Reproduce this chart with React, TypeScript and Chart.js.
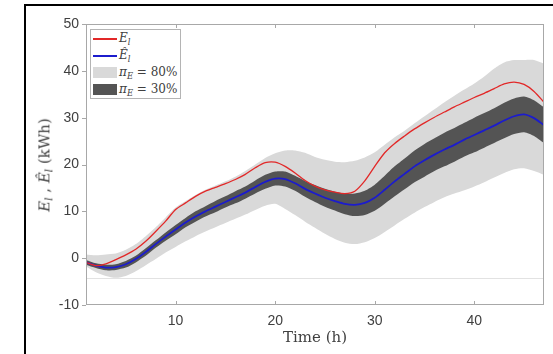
import React, { useEffect, useRef } from "react";
import { Chart, registerables } from "chart.js";

Chart.register(...registerables);

// ---------------- data ----------------
const TIME = [
  1, 2, 3, 4, 5, 6, 7, 8, 9, 10, 11, 12, 13, 14, 15, 16, 17, 18, 19, 20, 21, 22, 23, 24,
  25, 26, 27, 28, 29, 30, 31, 32, 33, 34, 35, 36, 37, 38, 39, 40, 41, 42, 43, 44, 45, 46, 47,
];

// measured energy E_l
const E_ACTUAL = [
  -0.9, -1.6, -1.2, -0.3, 0.7, 1.9, 3.6, 5.7, 7.9, 10.4, 11.8, 13.2, 14.3, 15.1, 15.9, 16.8,
  17.9, 19.3, 20.4, 20.5, 19.6, 18.2, 16.6, 15.4, 14.6, 14.1, 13.8, 14.3, 16.5, 19.6, 22.5,
  24.5, 26.1, 27.6, 28.9, 30.1, 31.2, 32.3, 33.3, 34.3, 35.2, 36.2, 37.2, 37.6, 37.1, 35.6, 33.3,
];

// forecast energy Ê_l
const E_FORECAST = [
  -0.9, -1.6, -2.0, -1.9, -1.3, -0.2, 1.3, 3.0, 4.6, 6.1, 7.6, 8.9, 10.0, 11.0, 12.0, 13.0,
  14.0, 15.2, 16.3, 17.0, 16.9, 16.0, 14.8, 13.8, 12.9, 12.2, 11.6, 11.4, 11.8, 12.9, 14.6,
  16.4, 18.0, 19.6, 20.9, 22.1, 23.2, 24.2, 25.3, 26.3, 27.3, 28.3, 29.4, 30.3, 30.7, 29.9, 28.4,
];

// 80% prediction interval
const PI80_UPPER = [
  0.8, 0.6, 0.8, 1.0, 1.8, 3.0, 4.7, 6.6, 8.7, 10.8, 12.2, 13.5, 14.6, 15.5, 16.4, 17.4,
  18.6, 20.0, 21.4, 22.4, 23.0, 23.0, 22.5, 21.6, 21.0, 20.6, 20.5, 20.8, 21.5, 22.6, 24.2,
  25.8, 27.2, 28.8, 30.3, 31.8, 33.3, 34.7, 36.0, 37.3, 38.8, 40.5, 41.8, 42.3, 42.3, 42.3, 41.5,
];
const PI80_LOWER = [
  -1.8, -3.0, -3.8, -4.2, -3.8, -2.8, -1.5, -0.2, 1.2, 2.4, 3.6, 4.7, 5.7, 6.6, 7.5, 8.4,
  9.3, 10.3, 11.2, 11.6, 10.5, 9.2, 7.8, 6.5, 5.2, 4.1, 3.3, 3.0, 3.4, 4.3, 5.6, 7.0, 8.4,
  9.7, 10.9, 12.0, 13.0, 13.8, 14.5, 15.3, 16.2, 17.2, 18.2, 19.0, 19.2, 18.6, 17.8,
];

// 30% prediction interval
const PI30_UPPER = [
  -0.4, -1.1, -1.4, -1.3, -0.6, 0.5, 2.1, 3.8, 5.5, 7.1, 8.6, 10.0, 11.1, 12.2, 13.2, 14.3,
  15.3, 16.6, 17.8, 18.5, 18.5, 17.6, 16.5, 15.6, 14.8, 14.2, 13.8, 13.8, 14.4, 15.7, 17.6,
  19.6, 21.3, 23.0, 24.4, 25.6, 26.8, 27.8, 28.9, 30.0, 31.0, 32.0, 33.2, 34.1, 34.5, 33.7, 32.2,
];
const PI30_LOWER = [
  -1.4, -2.1, -2.6, -2.5, -2.0, -0.9, 0.5, 2.2, 3.7, 5.1, 6.6, 7.8, 8.9, 9.8, 10.8, 11.7,
  12.7, 13.8, 14.8, 15.5, 15.3, 14.4, 13.1, 12.0, 11.0, 10.2, 9.4, 9.0, 9.2, 10.1, 11.6,
  13.2, 14.7, 16.2, 17.4, 18.6, 19.6, 20.6, 21.7, 22.6, 23.6, 24.6, 25.6, 26.5, 26.9, 26.1, 24.6,
];

const X_TICKS = [10, 20, 30, 40];
const Y_TICKS = [-10, 0, 10, 20, 30, 40, 50];
const X_RANGE = [1, 47];
const Y_RANGE = [-10, 50];
const REF_LINE = -4.2;

const X_TITLE = "Time (h)";
const PI80_LABEL = "80%";
const PI30_LABEL = "30%";

// ---------------- styles ----------------
const RED = "rgb(226,40,40)";
const BLUE = "rgb(28,28,205)";
const LIGHT = "rgb(217,217,217)";
const DARK = "rgb(84,84,84)";
const AXIS = "#a8a8a8";
const TEXT = "#404040";
const SERIF = "'DejaVu Serif', 'Liberation Serif', serif";

const pts = (ys: number[]) => TIME.map((t, i) => ({ x: t, y: ys[i] }));

const boxPlugin = {
  id: "matlabBox",
  beforeDatasetsDraw(chart: any) {
    const { ctx, chartArea: a, scales } = chart;
    const py = Math.round(scales.y.getPixelForValue(REF_LINE)) + 0.5;
    ctx.save();
    ctx.strokeStyle = "#e2e2e2";
    ctx.lineWidth = 1;
    ctx.beginPath();
    ctx.moveTo(a.left, py);
    ctx.lineTo(a.right, py);
    ctx.stroke();
    ctx.restore();
  },
  afterDraw(chart: any) {
    const { ctx, chartArea: a, scales } = chart;
    ctx.save();
    ctx.strokeStyle = AXIS;
    ctx.lineWidth = 1;
    ctx.strokeRect(a.left + 0.5, a.top + 0.5, a.right - a.left - 1, a.bottom - a.top - 1);
    ctx.beginPath();
    X_TICKS.forEach((v) => {
      const px = Math.round(scales.x.getPixelForValue(v)) + 0.5;
      ctx.moveTo(px, a.bottom);
      ctx.lineTo(px, a.bottom - 4);
      ctx.moveTo(px, a.top);
      ctx.lineTo(px, a.top + 4);
    });
    Y_TICKS.forEach((v) => {
      const py = Math.round(scales.y.getPixelForValue(v)) + 0.5;
      ctx.moveTo(a.left, py);
      ctx.lineTo(a.left - 4, py);
    });
    ctx.stroke();
    ctx.restore();
  },
};

const sub: React.CSSProperties = { fontSize: "0.7em", verticalAlign: "-0.3em", fontStyle: "italic" };

export default function App() {
  const ref = useRef<HTMLCanvasElement>(null);

  useEffect(() => {
    if (!ref.current) return;
    const chart = new Chart(ref.current, {
      type: "line",
      data: {
        datasets: [
          { label: "E_l", data: pts(E_ACTUAL), borderColor: RED, borderWidth: 1.3, pointRadius: 0, tension: 0.25, fill: false },
          { label: "Ê_l", data: pts(E_FORECAST), borderColor: BLUE, borderWidth: 1.8, pointRadius: 0, tension: 0.25, fill: false },
          { label: "pi30u", data: pts(PI30_UPPER), borderWidth: 0, borderColor: DARK, backgroundColor: DARK, pointRadius: 0, tension: 0.25, fill: "+1" },
          { label: "pi30l", data: pts(PI30_LOWER), borderWidth: 0, borderColor: DARK, pointRadius: 0, tension: 0.25, fill: false },
          { label: "pi80u", data: pts(PI80_UPPER), borderWidth: 0, borderColor: LIGHT, backgroundColor: LIGHT, pointRadius: 0, tension: 0.25, fill: "+1" },
          { label: "pi80l", data: pts(PI80_LOWER), borderWidth: 0, borderColor: LIGHT, pointRadius: 0, tension: 0.25, fill: false },
        ],
      },
      options: {
        animation: false,
        responsive: false,
        layout: { padding: { top: 24, right: 9, left: 0, bottom: 0 } },
        plugins: { legend: { display: false }, tooltip: { enabled: false } },
        scales: {
          x: {
            type: "linear",
            min: X_RANGE[0],
            max: X_RANGE[1],
            afterBuildTicks: (s: any) => {
              s.ticks = X_TICKS.map((v) => ({ value: v }));
            },
            afterFit: (s: any) => {
              s.height = 49;
            },
            grid: { display: false, drawTicks: false },
            border: { display: false },
            ticks: { padding: 8, color: TEXT, font: { family: "'Liberation Sans', Arial, sans-serif", size: 14 } },
            title: { display: true, text: X_TITLE, color: TEXT, font: { family: SERIF, size: 15 }, padding: { top: 0, bottom: 7 } },
          },
          y: {
            type: "linear",
            min: Y_RANGE[0],
            max: Y_RANGE[1],
            afterBuildTicks: (s: any) => {
              s.ticks = Y_TICKS.map((v) => ({ value: v }));
            },
            afterFit: (s: any) => {
              s.width = 86;
            },
            grid: { display: false, drawTicks: false },
            border: { display: false },
            ticks: { padding: 7, color: TEXT, font: { family: "'Liberation Sans', Arial, sans-serif", size: 14 } },
          },
        },
      },
      plugins: [boxPlugin],
    } as any);
    return () => chart.destroy();
  }, []);

  const row: React.CSSProperties = { position: "absolute", left: 0, height: 17, display: "flex", alignItems: "center" };
  const label: React.CSSProperties = { position: "absolute", left: 28, whiteSpace: "nowrap", fontFamily: SERIF, fontSize: 12, color: TEXT };

  return (
    <div style={{ position: "fixed", left: 0, top: 0, width: 553, height: 354, overflow: "hidden", background: "#fff" }}>
      <div style={{ position: "absolute", left: 24, top: 4, width: 540, height: 400, borderLeft: "2px solid #000", borderTop: "2px solid #000" }} />
      <canvas ref={ref} width={553} height={354} style={{ position: "absolute", left: 0, top: 0 }} />
      {/* y-axis title */}
      <div
        style={{
          position: "absolute",
          left: 45,
          top: 165,
          transform: "translate(-50%, -50%) rotate(-90deg)",
          whiteSpace: "nowrap",
          fontFamily: SERIF,
          fontSize: 15,
          color: TEXT,
        }}
      >
        <i>E</i><span style={sub}>l</span> , <i>Ê</i><span style={sub}>l</span> (kWh)
      </div>
      {/* legend */}
      <div style={{ position: "absolute", left: 90, top: 29, width: 89, height: 68, border: "1px solid #b4b4b4", background: "#fff" }}>
        <div style={{ ...row, top: 0, width: 89 }}>
          <div style={{ position: "absolute", left: 2, width: 24, height: 2, background: RED, top: 8 }} />
          <span style={label}><i>E</i><span style={sub}>l</span></span>
        </div>
        <div style={{ ...row, top: 17, width: 89 }}>
          <div style={{ position: "absolute", left: 2, width: 24, height: 2, background: BLUE, top: 8 }} />
          <span style={label}><i>Ê</i><span style={sub}>l</span></span>
        </div>
        <div style={{ ...row, top: 34, width: 89 }}>
          <div style={{ position: "absolute", left: 2, width: 24, height: 11, background: LIGHT, top: 3 }} />
          <span style={label}><i>π</i><span style={sub}>E</span> = {PI80_LABEL}</span>
        </div>
        <div style={{ ...row, top: 51, width: 89 }}>
          <div style={{ position: "absolute", left: 2, width: 24, height: 11, background: DARK, top: 3 }} />
          <span style={label}><i>π</i><span style={sub}>E</span> = {PI30_LABEL}</span>
        </div>
      </div>
    </div>
  );
}
